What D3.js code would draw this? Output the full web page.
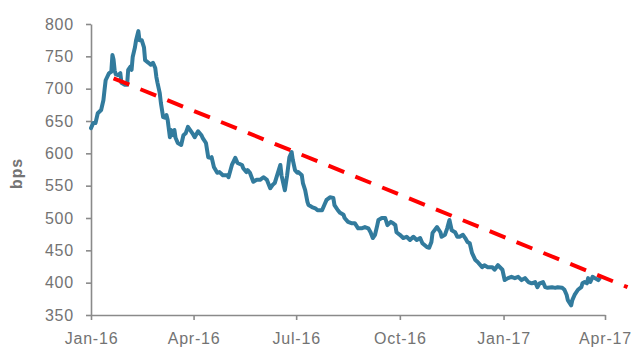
<!DOCTYPE html>
<html>
<head>
<meta charset="utf-8">
<script src="https://cdn.jsdelivr.net/npm/d3@7/dist/d3.min.js"></script>
<style>
  html, body { margin: 0; padding: 0; background: #ffffff; }
  svg { display: block; }
  .axis text { font-family: "Liberation Sans", Arial, sans-serif; font-size: 16px; fill: #737373; letter-spacing: 0.8px; }
  .axis path, .axis line { stroke: #8a8a8a; stroke-width: 1.6px; }
</style>
</head>
<body>
<svg id="chart" width="631" height="347"></svg>
<script>
// Spread series (bps), observation dates
const spreadDates = [
  "2016-01-01","2016-01-03","2016-01-05","2016-01-07","2016-01-10","2016-01-12","2016-01-13","2016-01-14",
  "2016-01-17","2016-01-19","2016-01-20","2016-01-21","2016-01-22","2016-01-23","2016-01-25","2016-01-27",
  "2016-01-28","2016-01-31","2016-02-02","2016-02-03","2016-02-05","2016-02-06","2016-02-07","2016-02-09",
  "2016-02-10","2016-02-12","2016-02-13","2016-02-15","2016-02-17","2016-02-18","2016-02-21","2016-02-23",
  "2016-02-25","2016-02-27","2016-02-28","2016-02-29","2016-03-02","2016-03-03","2016-03-05","2016-03-07",
  "2016-03-08","2016-03-09","2016-03-11","2016-03-12","2016-03-14","2016-03-15","2016-03-16","2016-03-18",
  "2016-03-21","2016-03-23","2016-03-25","2016-03-27","2016-03-29","2016-03-31","2016-04-02","2016-04-05",
  "2016-04-08","2016-04-09","2016-04-12","2016-04-14","2016-04-16","2016-04-17","2016-04-19","2016-04-22",
  "2016-04-24","2016-04-27","2016-05-01","2016-05-02","2016-05-05","2016-05-08","2016-05-10","2016-05-14",
  "2016-05-15","2016-05-18","2016-05-19","2016-05-21","2016-05-24","2016-05-27","2016-05-30","2016-06-02",
  "2016-06-03","2016-06-05","2016-06-08","2016-06-10","2016-06-12","2016-06-15","2016-06-17","2016-06-18",
  "2016-06-21","2016-06-23","2016-06-25","2016-06-27","2016-06-28","2016-06-30","2016-07-02","2016-07-03",
  "2016-07-06","2016-07-07","2016-07-09","2016-07-11","2016-07-12","2016-07-15","2016-07-18","2016-07-20",
  "2016-07-24","2016-07-26","2016-07-28","2016-07-31","2016-08-03","2016-08-04","2016-08-07","2016-08-09",
  "2016-08-12","2016-08-13","2016-08-16","2016-08-19","2016-08-22","2016-08-25","2016-08-28","2016-08-31",
  "2016-09-03","2016-09-05","2016-09-07","2016-09-09","2016-09-11","2016-09-12","2016-09-15","2016-09-18",
  "2016-09-20","2016-09-23","2016-09-25","2016-09-27","2016-09-28","2016-10-01","2016-10-04","2016-10-07",
  "2016-10-10","2016-10-13","2016-10-16","2016-10-19","2016-10-21","2016-10-25","2016-10-27","2016-10-29",
  "2016-10-30","2016-11-03","2016-11-06","2016-11-07","2016-11-10","2016-11-12","2016-11-14","2016-11-16",
  "2016-11-19","2016-11-21","2016-11-23","2016-11-26","2016-11-28","2016-11-30","2016-12-02","2016-12-04",
  "2016-12-07","2016-12-09","2016-12-13","2016-12-15","2016-12-18","2016-12-22","2016-12-24","2016-12-27",
  "2016-12-31","2017-01-02","2017-01-05","2017-01-08","2017-01-11","2017-01-14","2017-01-17","2017-01-20",
  "2017-01-23","2017-01-26","2017-01-29","2017-01-31","2017-02-02","2017-02-05","2017-02-07","2017-02-09",
  "2017-02-13","2017-02-16","2017-02-18","2017-02-22","2017-02-24","2017-02-26","2017-02-27","2017-03-02",
  "2017-03-03","2017-03-05","2017-03-08","2017-03-11","2017-03-12","2017-03-14","2017-03-16","2017-03-17",
  "2017-03-19","2017-03-21","2017-03-23","2017-03-26","2017-03-27"
];
const spreadValues = [
  639,647,647,662,667,682,698,713,
  724,726,752,745,728,722,721,724,
  709,706,706,729,734,729,749,764,
  775,789,775,775,764,744,740,737,
  740,732,718,709,693,678,656,655,
  659,652,625,636,628,636,624,616,
  613,628,631,641,636,631,625,634,
  628,624,616,594,593,594,579,570,
  571,566,566,563,582,593,585,582,
  577,571,574,570,556,559,559,563,
  562,559,546,551,554,571,582,566,
  543,566,594,602,590,574,570,571,
  566,554,543,525,520,517,515,512,
  512,520,528,532,531,520,512,508,
  505,500,494,492,492,484,484,486,
  484,478,469,474,489,497,500,500,
  489,494,492,489,478,474,469,471,
  466,471,466,469,461,455,454,463,
  477,486,478,471,474,484,497,481,
  478,471,471,474,469,463,461,446,
  435,432,424,427,424,424,420,427,
  420,404,407,409,407,409,404,407,
  401,399,401,393,399,401,393,392,
  393,392,393,392,389,381,373,365,
  373,381,389,393,399,401,399,407,
  401,409,407,404,406
];

// Downward trend line end points
const trendDates = ["2016-01-21", "2017-04-21"];
const trendValues = [716, 393];

// Axis ticks
const xTickDates = ["2016-01-01","2016-04-01","2016-07-01","2016-10-01","2017-01-01","2017-04-01"];
const xTickLabels = ["Jan-16","Apr-16","Jul-16","Oct-16","Jan-17","Apr-17"];
const yTicks = [350,400,450,500,550,600,650,700,750,800];
const yLabel = "bps";

const parse = d3.timeParse("%Y-%m-%d");
const series = spreadDates.map((d, i) => ({ date: parse(d), value: spreadValues[i] }));
const trend = trendDates.map((d, i) => ({ date: parse(d), value: trendValues[i] }));

const margin = { top: 24, right: 26, bottom: 32, left: 91 };
const width = 631, height = 347;
const svg = d3.select("#chart");

const x = d3.scaleTime()
  .domain([parse(xTickDates[0]), parse(xTickDates[xTickDates.length - 1])])
  .range([margin.left, width - margin.right]);
const y = d3.scaleLinear()
  .domain([350, 800])
  .range([height - margin.bottom, margin.top]);

// Axes
const yAxis = d3.axisLeft(y).tickValues(yTicks).tickSize(5).tickSizeOuter(0).tickPadding(12);
svg.append("g").attr("class", "axis")
  .attr("transform", `translate(${margin.left},0)`)
  .call(yAxis);

const xAxis = d3.axisBottom(x)
  .tickValues(xTickDates.map(parse))
  .tickFormat((d, i) => xTickLabels[i])
  .tickSize(5).tickSizeOuter(0).tickPadding(13);
svg.append("g").attr("class", "axis")
  .attr("transform", `translate(0,${height - margin.bottom})`)
  .call(xAxis);

// Y axis title
svg.append("text")
  .attr("transform", `translate(22,${(margin.top + height - margin.bottom) / 2 + 4}) rotate(-90)`)
  .attr("text-anchor", "middle")
  .style("font-family", "'Liberation Sans', Arial, sans-serif")
  .style("font-size", "16px")
  .style("font-weight", "bold")
  .style("letter-spacing", "0.8px")
  .style("fill", "#737373")
  .text(yLabel);

const line = d3.line().x(d => x(d.date)).y(d => y(d.value));

// Spread series
svg.append("path")
  .datum(series)
  .attr("fill", "none")
  .attr("stroke", "#327b9d")
  .attr("stroke-width", 4)
  .attr("stroke-linejoin", "round")
  .attr("stroke-linecap", "round")
  .attr("d", line);

// Trend line
svg.append("path")
  .datum(trend)
  .attr("fill", "none")
  .attr("stroke", "#ff0000")
  .attr("stroke-width", 4)
  .attr("stroke-dasharray", "17,12")
  .attr("d", line);
</script>
</body>
</html>
